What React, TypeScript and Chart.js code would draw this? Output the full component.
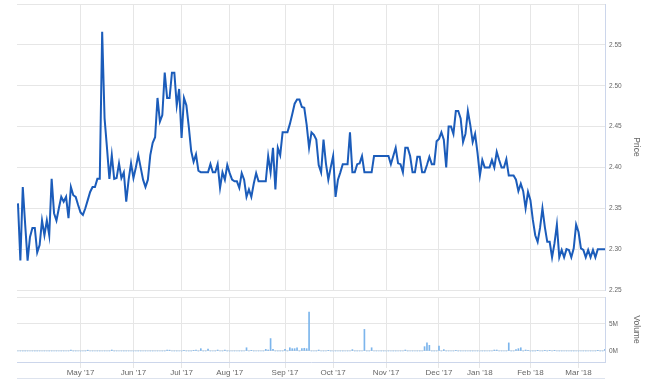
import React, { useEffect, useRef } from "react";
import { Chart, registerables } from "chart.js";

Chart.register(...registerables);

// Month tick labels and the index of the first trading day of each month
const monthLabels = ["May '17", "Jun '17", "Jul '17", "Aug '17", "Sep '17", "Oct '17", "Nov '17", "Dec '17", "Jan '18", "Feb '18", "Mar '18"];
const monthStarts = [26, 48, 68, 88, 111, 131, 153, 175, 192, 213, 233];

// Price axis ticks
const priceTicks = [2.25, 2.3, 2.35, 2.4, 2.45, 2.5, 2.55, 2.6];
// Volume axis ticks (millions)
const volumeTicks = [0, 5, 10];

// Daily closing price (one value per trading day)
const price = [
  // Apr '17
  2.356, 2.286, 2.376, 2.33, 2.286, 2.315, 2.326, 2.326, 2.296, 2.305,
  2.335, 2.317, 2.335, 2.317, 2.386, 2.344, 2.335, 2.35, 2.364, 2.358,
  2.364, 2.338, 2.376, 2.366, 2.364, 2.354,
  // May '17
  2.345, 2.342, 2.35, 2.36, 2.37, 2.376, 2.376, 2.386, 2.386, 2.566,
  2.46, 2.424, 2.386, 2.415, 2.386, 2.387, 2.405, 2.387, 2.394, 2.358,
  2.385, 2.405,
  // Jun '17
  2.387, 2.4, 2.415, 2.4, 2.385, 2.376, 2.385, 2.415, 2.43, 2.437,
  2.485, 2.456, 2.464, 2.516, 2.485, 2.485, 2.516, 2.516, 2.476, 2.496,
  // Jul '17
  2.436, 2.485, 2.476, 2.45, 2.42, 2.407, 2.416, 2.396, 2.394, 2.394,
  2.394, 2.394, 2.404, 2.394, 2.394, 2.404, 2.375, 2.394, 2.385, 2.403,
  // Aug '17
  2.393, 2.385, 2.383, 2.383, 2.375, 2.393, 2.385, 2.364, 2.373, 2.364,
  2.38, 2.393, 2.383, 2.383, 2.383, 2.383, 2.414, 2.394, 2.424, 2.373,
  2.424, 2.415, 2.443,
  // Sep '17
  2.443, 2.443, 2.453, 2.465, 2.478, 2.483, 2.483, 2.474, 2.473, 2.452,
  2.424, 2.443, 2.44, 2.434, 2.403, 2.394, 2.434, 2.405, 2.385, 2.4,
  // Oct '17
  2.414, 2.364, 2.385, 2.394, 2.404, 2.404, 2.404, 2.443, 2.394, 2.394,
  2.404, 2.405, 2.414, 2.394, 2.394, 2.394, 2.394, 2.414, 2.414, 2.414,
  2.414, 2.414,
  // Nov '17
  2.414, 2.414, 2.404, 2.414, 2.424, 2.405, 2.404, 2.394, 2.424, 2.424,
  2.414, 2.394, 2.394, 2.413, 2.413, 2.394, 2.394, 2.403, 2.413, 2.404,
  2.404, 2.432,
  // Dec '17
  2.435, 2.443, 2.434, 2.4, 2.45, 2.45, 2.441, 2.469, 2.469, 2.46,
  2.431, 2.441, 2.469, 2.452, 2.431, 2.441, 2.418,
  // Jan '18
  2.39, 2.409, 2.4, 2.4, 2.4, 2.409, 2.4, 2.419, 2.409, 2.4,
  2.4, 2.41, 2.39, 2.39, 2.39, 2.385, 2.371, 2.38, 2.371, 2.35,
  2.37,
  // Feb '18
  2.36, 2.336, 2.317, 2.309, 2.326, 2.35, 2.327, 2.309, 2.309, 2.29,
  2.307, 2.33, 2.29, 2.299, 2.29, 2.3, 2.299, 2.29, 2.301, 2.33,
  // Mar '18
  2.321, 2.301, 2.299, 2.29, 2.299, 2.29, 2.299, 2.29, 2.3, 2.3,
  2.3, 2.3,
];

// Daily volume, in millions
const volumeM = [
  0, 0, 0, 0, 0, 0, 0, 0, 0, 0,
  0, 0, 0, 0, 0, 0, 0, 0, 0, 0,
  0, 0, 0.18, 0, 0, 0, 0, 0, 0, 0.15,
  0, 0, 0, 0, 0, 0, 0, 0, 0, 0.18,
  0, 0, 0, 0, 0, 0, 0, 0, 0, 0,
  0, 0, 0, 0, 0, 0, 0, 0, 0, 0,
  0, 0, 0.18, 0.15, 0, 0, 0, 0, 0, 0.12,
  0, 0, 0, 0.12, 0.18, 0, 0.43, 0, 0, 0.37,
  0, 0, 0, 0.18, 0, 0, 0.18, 0, 0, 0,
  0, 0, 0, 0, 0, 0.6, 0, 0.12, 0, 0,
  0, 0, 0, 0.3, 0.18, 2.3, 0.3, 0, 0, 0,
  0, 0.3, 0, 0.6, 0.43, 0.43, 0.6, 0, 0.43, 0.5,
  0.43, 7.2, 0, 0, 0, 0.18, 0, 0, 0, 0.12,
  0, 0, 0, 0, 0, 0, 0, 0, 0, 0.25,
  0, 0, 0, 0, 4.0, 0, 0, 0.6, 0, 0,
  0, 0, 0, 0, 0, 0, 0, 0, 0, 0,
  0, 0.18, 0, 0, 0, 0, 0, 0, 0, 0.8,
  1.5, 1.05, 0, 0, 0, 0.9, 0, 0.25, 0, 0,
  0, 0, 0.12, 0, 0, 0, 0, 0, 0, 0,
  0, 0, 0, 0, 0, 0, 0, 0, 0.18, 0.18,
  0, 0, 0, 0, 1.5, 0, 0, 0.25, 0.43, 0.6,
  0, 0.18, 0.12, 0, 0, 0, 0.12, 0, 0, 0.12,
  0, 0.12, 0, 0.12, 0, 0, 0, 0, 0, 0,
  0, 0, 0, 0, 0, 0, 0, 0, 0, 0,
  0, 0.12, 0, 0, 0.3,
];

const GRID = "#e6e6e6";
const AXIS = "#ccd6eb";
const LABEL = "#666666";
const FONT = "'Liberation Sans', Arial, sans-serif";
const X_MIN = -0.4;
const X_MAX = price.length - 1;

export default function App() {
  const priceRef = useRef<HTMLCanvasElement | null>(null);
  const volRef = useRef<HTMLCanvasElement | null>(null);

  useEffect(() => {
    const monthTickBuilder = (s: any) => {
      s.ticks = monthStarts.map((v) => ({ value: v }));
    };

    const priceChart = new Chart(priceRef.current as HTMLCanvasElement, {
      type: "line",
      data: {
        datasets: [
          {
            data: price.map((p, i) => ({ x: i, y: p })),
            borderColor: "#1b5cba",
            borderWidth: 2,
            pointRadius: 0,
            tension: 0,
            fill: false,
          },
        ],
      },
      options: {
        responsive: false,
        animation: false,
        devicePixelRatio: 1,
        layout: { padding: { left: 17, top: 4, right: 0, bottom: 10 } },
        plugins: { legend: { display: false }, tooltip: { enabled: false } },
        scales: {
          x: {
            type: "linear",
            min: X_MIN,
            max: X_MAX,
            afterBuildTicks: monthTickBuilder,
            grid: { color: GRID, drawTicks: false },
            border: { display: false },
            ticks: { display: false },
            afterFit: (s: any) => {
              s.height = 0;
              s.paddingLeft = 0;
              s.paddingRight = 0;
            },
          },
          y: {
            position: "right",
            min: 2.25,
            max: 2.6,
            afterBuildTicks: (s: any) => {
              s.ticks = priceTicks.map((v) => ({ value: v }));
            },
            grid: { color: GRID, drawTicks: false },
            border: { color: AXIS },
            ticks: {
              padding: 4,
              color: LABEL,
              font: { family: FONT, size: 6.5 },
              callback: (v: any) => (Number(v) >= 2.599 ? "" : Number(v).toFixed(2)),
            },
            title: {
              display: true,
              text: "Price",
              color: LABEL,
              font: { family: FONT, size: 8.5 },
              padding: { top: 9, bottom: 0 },
            },
            afterFit: (s: any) => {
              s.width = 45;
              s.paddingTop = 0;
              s.paddingBottom = 0;
            },
          },
        },
      } as any,
    });

    const volChart = new Chart(volRef.current as HTMLCanvasElement, {
      type: "bar",
      data: {
        datasets: [
          {
            data: volumeM.map((v, i) => ({ x: i, y: v })),
            backgroundColor: "#7cb5ec",
            barThickness: 1,
            borderWidth: 0,
          },
        ],
      },
      options: {
        responsive: false,
        animation: false,
        devicePixelRatio: 1,
        layout: { padding: { left: 17, top: 7, right: 0, bottom: 0 } },
        plugins: { legend: { display: false }, tooltip: { enabled: false } },
        scales: {
          x: {
            type: "linear",
            min: X_MIN,
            max: X_MAX,
            offset: false,
            afterBuildTicks: monthTickBuilder,
            grid: { color: GRID, drawTicks: true, tickLength: 6, offset: false },
            border: { color: AXIS },
            ticks: {
              color: LABEL,
              font: { family: FONT, size: 8 },
              padding: 0,
              maxRotation: 0,
              autoSkip: false,
              callback: (v: any) => {
                const k = monthStarts.indexOf(Number(v));
                return k >= 0 ? monthLabels[k] : "";
              },
            },
            afterFit: (s: any) => {
              s.height = 23;
              s.paddingLeft = 0;
              s.paddingRight = 0;
            },
          },
          y: {
            position: "right",
            min: -2.04,
            max: 10,
            afterBuildTicks: (s: any) => {
              s.ticks = volumeTicks.map((v) => ({ value: v }));
            },
            grid: { color: GRID, drawTicks: false },
            border: { color: AXIS },
            ticks: {
              padding: 4,
              color: LABEL,
              font: { family: FONT, size: 6.5 },
              callback: (v: any) => (Number(v) >= 10 ? "" : `${Number(v)}M`),
            },
            title: {
              display: true,
              text: "Volume",
              color: LABEL,
              font: { family: FONT, size: 8.5 },
              padding: { top: 9, bottom: 0 },
            },
            afterFit: (s: any) => {
              s.width = 45;
              s.paddingTop = 0;
              s.paddingBottom = 0;
            },
          },
        },
      } as any,
    });

    return () => {
      priceChart.destroy();
      volChart.destroy();
    };
  }, []);

  return (
    <div
      style={{
        position: "fixed",
        left: 0,
        top: 0,
        width: 650,
        height: 385,
        background: "#ffffff",
        overflow: "hidden",
      }}
    >
      <canvas
        ref={priceRef}
        width={650}
        height={300}
        style={{ position: "absolute", left: 0, top: 0, width: 650, height: 300 }}
      />
      <canvas
        ref={volRef}
        width={650}
        height={95}
        style={{ position: "absolute", left: 0, top: 290, width: 650, height: 95 }}
      />
      <div
        style={{
          position: "absolute",
          left: 17,
          top: 378,
          width: 588,
          height: 1,
          background: "#dde3ee",
        }}
      />
    </div>
  );
}
